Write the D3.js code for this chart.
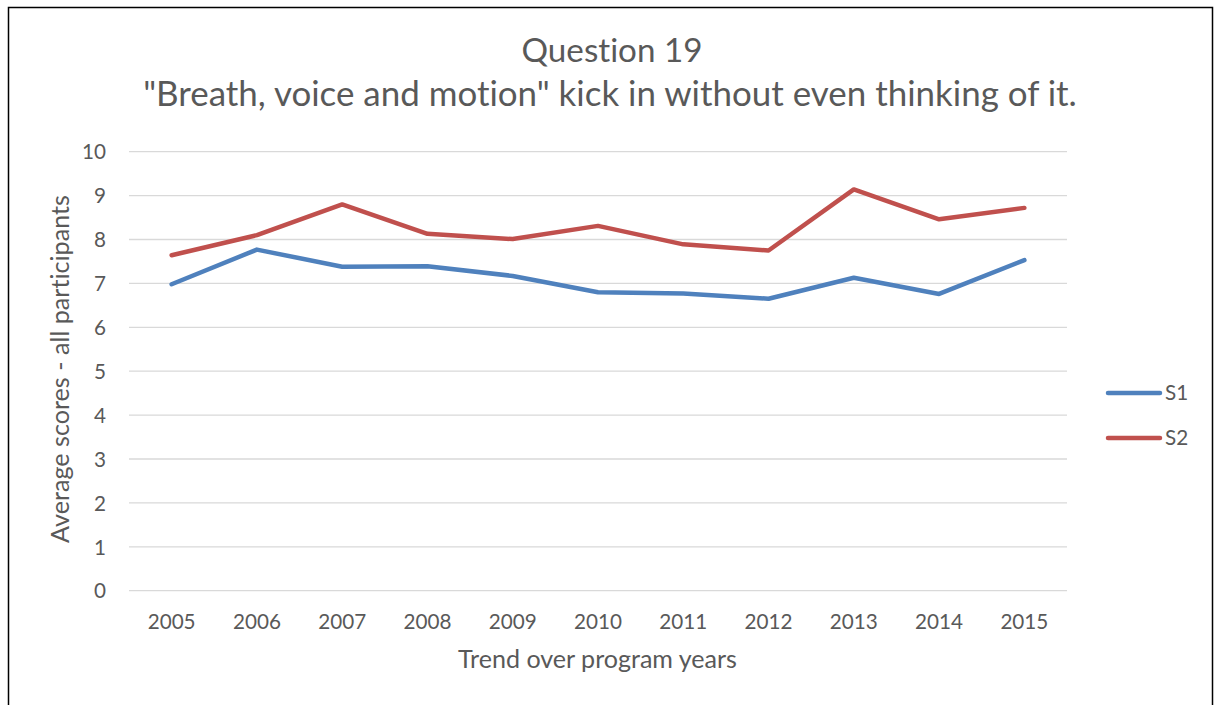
<!DOCTYPE html>
<html>
<head>
<meta charset="utf-8">
<script src="https://cdn.jsdelivr.net/npm/d3@7"></script>
<style>
  html, body { margin: 0; padding: 0; background: #fff; }
  svg { display: block; }
  text { font-family: Lato, "Open Sans", sans-serif; fill: #595959; font-variant-ligatures: none; font-feature-settings: "liga" 0, "clig" 0; }
</style>
</head>
<body>
<svg id="chart" width="1217" height="705"></svg>
<script>
// Survey question 19: average scores per program year, two sessions
const years = ["2005", "2006", "2007", "2008", "2009", "2010", "2011", "2012", "2013", "2014", "2015"];
const s1Values = [6.98, 7.77, 7.38, 7.39, 7.17, 6.80, 6.77, 6.65, 7.13, 6.76, 7.53];
const s2Values = [7.64, 8.10, 8.80, 8.13, 8.01, 8.31, 7.89, 7.75, 9.14, 8.46, 8.72];
const yTicks = [0, 1, 2, 3, 4, 5, 6, 7, 8, 9, 10];
const seriesNames = ["S1", "S2"];
const seriesColors = ["#4F81BD", "#C0504D"];
const titleLines = ["Question 19", "\"Breath, voice and motion\" kick in without even thinking of it."];
const xTitle = "Trend over program years";
const yTitle = "Average scores - all participants";

const svg = d3.select("#chart");

// outer chart frame
svg.append("rect")
  .attr("x", 8.5).attr("y", 7.5)
  .attr("width", 1204).attr("height", 720)
  .attr("fill", "#fff").attr("stroke", "#000").attr("stroke-width", 1.5);

const plot = { left: 129, right: 1067, top: 151.7, bottom: 590.7 };

const x = d3.scaleBand().domain(years).range([plot.left, plot.right]);
const y = d3.scaleLinear().domain([0, 10]).range([plot.bottom, plot.top]);

// font size that makes a text element render at a target width
function fittedSize(node, target) {
  const size = parseFloat(d3.select(node).attr("font-size"));
  return size * target / node.getComputedTextLength();
}
function fitWidth(sel, target) {
  sel.attr("font-size", fittedSize(sel.node(), target));
}

// horizontal gridlines
svg.append("g")
  .selectAll("line")
  .data(yTicks)
  .join("line")
  .attr("x1", plot.left).attr("x2", plot.right)
  .attr("y1", d => y(d)).attr("y2", d => y(d))
  .attr("stroke", "#d9d9d9").attr("stroke-width", 1.3);

// x axis labels, sized so a four-digit year is about 48px wide
const xAxis = svg.append("g")
  .attr("transform", `translate(0,${plot.bottom + 38})`)
  .call(d3.axisBottom(x).tickSize(0).tickPadding(0));
xAxis.select(".domain").remove();
const xLabels = xAxis.selectAll("text")
  .attr("font-family", "Lato, 'Open Sans', sans-serif")
  .attr("font-size", 18)
  .attr("fill", "#595959")
  .attr("dy", 0);
const tickSize = fittedSize(xLabels.nodes()[4], 48);
xLabels.attr("font-size", tickSize);

// y axis labels
const yAxis = svg.append("g")
  .attr("transform", `translate(${plot.left - 23},0)`)
  .call(d3.axisLeft(y).tickValues(yTicks).tickSize(0).tickPadding(0));
yAxis.select(".domain").remove();
yAxis.selectAll("text")
  .attr("font-family", "Lato, 'Open Sans', sans-serif")
  .attr("font-size", tickSize)
  .attr("fill", "#595959")
  .attr("dy", "0.35em");

// series lines
const line = d3.line()
  .x((d, i) => x(years[i]) + x.bandwidth() / 2)
  .y(d => y(d));

[s1Values, s2Values].forEach((vals, k) => {
  svg.append("path")
    .datum(vals)
    .attr("d", line)
    .attr("fill", "none")
    .attr("stroke", seriesColors[k])
    .attr("stroke-width", 4.5)
    .attr("stroke-linejoin", "round")
    .attr("stroke-linecap", "round");
});

// titles
const t1 = svg.append("text")
  .attr("x", 612).attr("y", 62)
  .attr("text-anchor", "middle")
  .attr("font-size", 28)
  .text(titleLines[0]);
fitWidth(t1, 181);

const t2 = svg.append("text")
  .attr("x", 610).attr("y", 106)
  .attr("text-anchor", "middle")
  .attr("font-size", 28)
  .text(titleLines[1]);
fitWidth(t2, 934);

// axis titles
const xt = svg.append("text")
  .attr("x", 597.5).attr("y", 668)
  .attr("text-anchor", "middle")
  .attr("font-size", 20)
  .text(xTitle);
fitWidth(xt, 279);

const yt = svg.append("text")
  .attr("transform", "translate(69,369) rotate(-90)")
  .attr("text-anchor", "middle")
  .attr("font-size", 20)
  .text(yTitle);
fitWidth(yt, 348);

// legend
const legend = svg.append("g");
seriesNames.forEach((name, k) => {
  const ly = 393 + k * 45;
  legend.append("line")
    .attr("x1", 1108).attr("x2", 1160)
    .attr("y1", ly).attr("y2", ly)
    .attr("stroke", seriesColors[k])
    .attr("stroke-width", 4.5)
    .attr("stroke-linecap", "round");
  legend.append("text")
    .attr("x", 1165).attr("y", ly)
    .attr("dy", "0.35em")
    .attr("font-size", tickSize)
    .text(name);
});
</script>
</body>
</html>
